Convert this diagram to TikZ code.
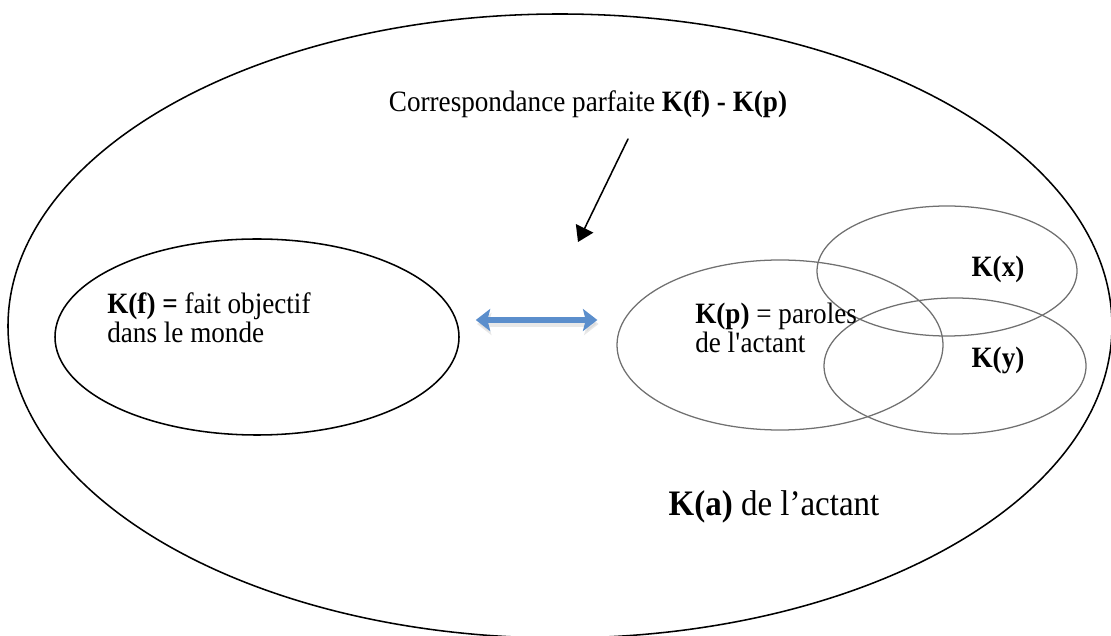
\documentclass[tikz,border=0pt]{standalone}
\usepackage{fontspec}
\setmainfont[FakeStretch=0.92]{Liberation Serif}
\usetikzlibrary{shapes.geometric,arrows.meta}
\definecolor{arrowblue}{HTML}{5B8ECC}
\definecolor{setgray}{HTML}{707070}

\begin{document}
\begin{tikzpicture}[>={Triangle[length=0.38cm,width=0.48cm]}, line cap=round, line join=round, font=\fontsize{21}{21}\selectfont,
		oval/.style={draw, ellipse, inner sep=0pt, line width=1.1pt},
		set/.style={oval, draw=setgray, line width=0.9pt},
		lbl/.style={align=left, inner sep=0pt, anchor=base west},
		twoway/.style={{Stealth[length=0.36cm,width=0.55cm,inset=0.07cm]}-{Stealth[length=0.36cm,width=0.55cm,inset=0.07cm]}, line width=4.2pt}]
	\def\xmax{27.775}
	\def\ymax{15.875}
	\useasboundingbox (0,0) rectangle (\xmax,\ymax);
	\clip (0,0) rectangle (\xmax,\ymax);
	% ensembles
	\node[oval, minimum width=27.6cm, minimum height=15.6cm] (ka) at (14,7.725) {};
	\node[oval, minimum width=10.1cm, minimum height=4.9cm] (kf) at (6.425,7.45) {};
	\node[set, minimum width=8.15cm, minimum height=4.25cm] (kp) at (19.5,7.25) {};
	\node[set, minimum width=6.5cm, minimum height=3.25cm] (kx) at (23.675,9.1) {};
	\node[set, minimum width=6.55cm, minimum height=3.4cm] (ky) at (23.875,6.725) {};
	% textes
	\node[lbl] (tf) at (2.675,7.3) {\textbf{K(f) =} fait objectif\\dans le monde};
	\node[lbl] (tp) at (17.375,7.05) {\textbf{K(p)} = paroles\\de l\textquotesingle actant};
	\node[anchor=base, inner sep=0pt] (tx) at (24.95,8.95) {\textbf{K(x)}};
	\node[anchor=base, inner sep=0pt] (ty) at (24.95,6.675) {\textbf{K(y)}};
	\node[anchor=base, inner sep=0pt, font=\fontsize{25.5}{28}\selectfont] (ta) at (19.35,3.0) {\textbf{K(a)} de l’actant};
	\node[anchor=base, inner sep=0pt] (corr) at (14.7,13.075) {Correspondance parfaite \textbf{K(f) - K(p)}};
	% fleches
	\coordinate (fa) at ([xshift=0.4cm,yshift=0.425cm]kf.east);
	\coordinate (pa) at ([xshift=-0.475cm,yshift=0.625cm]kp.west);
	\draw[twoway, black!20, opacity=0.45, transform canvas={xshift=0.03cm,yshift=-0.1cm}] (fa) -- (pa);
	\draw[twoway, arrowblue] (fa) -- (pa);
	\coordinate (tip) at (14.45,9.825);
	\draw[->, line width=1.1pt] ([xshift=1cm,yshift=-0.675cm]corr.base) -- (tip);
\end{tikzpicture}
\end{document}
